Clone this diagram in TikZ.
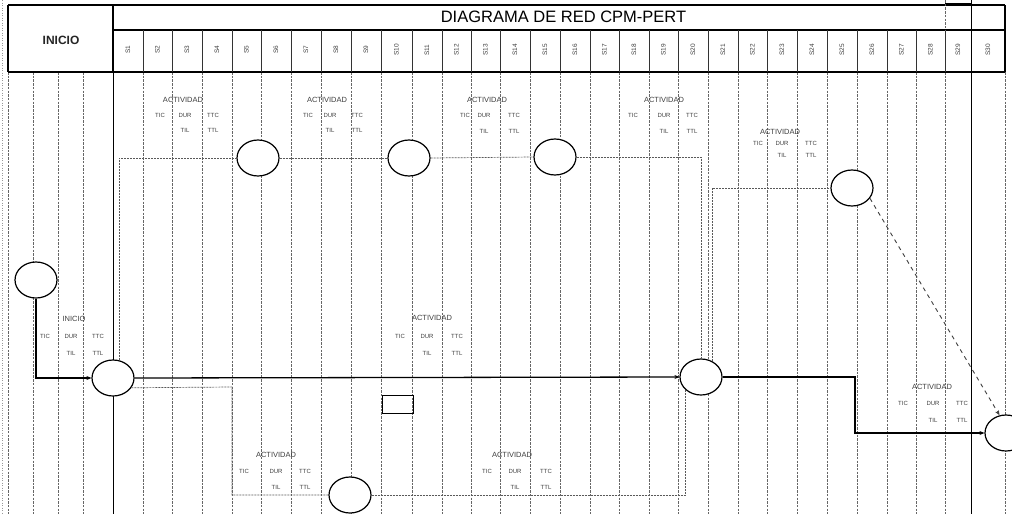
\documentclass[tikz,border=0pt]{standalone}
\usepackage{fontspec}
\setmainfont{Liberation Sans}
\usetikzlibrary{shapes.geometric,arrows.meta}
\newcommand\acttab[9]{%
  \node[tabhdr] (#1-h) at (#3,#4) {#2};
  \node[tabtxt] (#1-tic) at (#5,#8) {TIC};
  \node[tabtxt] (#1-dur) at (#6,#8) {DUR};
  \node[tabtxt] (#1-ttc) at (#7,#8) {TTC};
  \node[tabtxt] (#1-til) at (#6,#9) {TIL};
  \node[tabtxt] (#1-ttl) at (#7,#9) {TTL};
}
\begin{document}
\begin{tikzpicture}[x=1pt,y=-1pt,
  hdr/.style={line width=1.3pt,black},
  hsep/.style={line width=0.8pt,black!80},
  gridln/.style={line width=0.6pt,black!60,dash pattern=on 2.5pt off 1.2pt},
  evento/.style={ellipse,draw=black,line width=1.2pt,fill=white,minimum width=42pt,minimum height=36pt,inner sep=0pt},
  flow/.style={line width=1.3pt,black,-{Stealth[length=5pt,width=4pt]}},
  route/.style={line width=0.7pt,black!65,dash pattern=on 2pt off 1pt},
  dashflow/.style={line width=0.9pt,black!75,dash pattern=on 4pt off 4pt,-{Stealth[length=5pt,width=4pt]}},
  tabtxt/.style={font=\fontsize{6}{7}\selectfont,text=black!75,inner sep=0pt},
  tabhdr/.style={font=\fontsize{7.5}{8}\selectfont,text=black!75,inner sep=0pt},
  collab/.style={font=\fontsize{6.5}{7}\selectfont,rotate=90,text=black!75,inner sep=0pt},
]
\useasboundingbox[fill=white] (0,0) rectangle (1012,514);

% body grid
\draw[line width=0.5pt,black!40,dash pattern=on 1pt off 1.5pt] (2,0) -- (2,514);
\foreach \x in {8,33,58,83,143,172,202,232,261,291,321,351,381,412,442,471,500,530,560,590,619,649,678,708,738,767,797,827,857,887,916,945,1005}
  \draw[gridln] (\x,72) -- (\x,514);
\draw[line width=0.9pt,black] (113,72) -- (113,514);

% header
\draw[hdr] (8,5) -- (1005,5);
\draw[hdr] (113,30) -- (1005,30);
\draw[hdr] (8,72) -- (1005,72);
\draw[hdr] (8,5) -- (8,72);
\draw[hdr] (113,5) -- (113,72);
\draw[hdr] (1005,5) -- (1005,72);
\foreach \x in {143,172,202,232,261,291,321,351,381,412,442,471,500,530,560,590,619,649,678,708,738,767,797,827,857,887,916,945}
  \draw[hsep] (\x,30) -- (\x,72);
\draw[gridln] (945,0) -- (945,30);
\draw[line width=0.8pt] (945,3) -- (971,3);
\draw[line width=1.6pt,black] (971.5,0) -- (971.5,514);

\node[font=\fontsize{12}{12}\selectfont\bfseries,text=black!85] (inicioh) at (61,40) {INICIO};
\node[font=\fontsize{16.5}{16.5}\selectfont] (titulo) at (563.5,17) {DIAGRAMA DE RED CPM-PERT};

\foreach \a/\b [count=\i] in {113/143,143/172,172/202,202/232,232/261,261/291,291/321,321/351,351/381,381/412,412/442,442/471,471/500,500/530,530/560,560/590,590/619,619/649,649/678,678/708,708/738,738/767,767/797,797/827,827/857,857/887,887/916,916/945,945/971,971/1005}
  \node[collab] (s\i) at ({(\a+\b)/2},50) {S\i};

% activity tables
\acttab{tA}{ACTIVIDAD}{183}{100}{160}{185}{213}{115}{130}
\acttab{tB}{ACTIVIDAD}{327}{100}{308}{330}{357}{115}{130}
\acttab{tC}{ACTIVIDAD}{487}{100}{465}{484}{514}{115}{131}
\acttab{tD}{ACTIVIDAD}{664}{100}{633}{664}{692}{115}{131}
\acttab{tE}{ACTIVIDAD}{780}{132}{758}{782}{811}{143}{155}
\acttab{tF}{INICIO}{74}{319}{45}{71}{98}{336}{353}
\acttab{tG}{ACTIVIDAD}{432}{318}{400}{427}{457}{336}{353}
\acttab{tH}{ACTIVIDAD}{276}{455}{244}{276}{305}{471}{487}
\acttab{tI}{ACTIVIDAD}{512}{455}{487}{515}{546}{471}{487}
\acttab{tJ}{ACTIVIDAD}{932}{387}{903}{933}{962}{403}{420}

% events
\node[evento] (n0) at (36,280) {};
\node[evento] (n1) at (113,378) {};
\node[evento] (n2) at (258,158) {};
\node[evento] (n3) at (409,158) {};
\node[evento] (n4) at (555,157) {};
\node[evento] (n5) at (852,188) {};
\node[evento] (n6) at (701,377) {};
\node[evento] (n7) at (350,495) {};
\node[evento] (n8) at (1006,433) {};
\node[draw,line width=0.8pt,minimum width=31pt,minimum height=18pt,inner sep=0pt] (caja) at (397.5,404) {};

% connectors
\coordinate (c1) at (855,377);
\coordinate (c2) at (232,387);
\draw[flow] (n0.south) |- (n1.west);
\draw[flow] (n1.east) -- (n6.west);
\draw[flow] (n6.east) -- (c1) |- (n8.west);
\draw[dashflow] (n5.-30) -- (n8.110);
\draw[route] (n1.70) |- (n2.west);
\draw[route] (n2.east) -- (n3.west);
\draw[route] (n3.east) -- (n4.west);
\draw[route] (n4.east) -| (n6.north);
\draw[route] (n6.55) |- (n5.west);
\draw[route] (n1.-28) -- (c2) |- (n7.west);
\draw[route] (n7.east) -| (n6.south west);
\end{tikzpicture}
\end{document}
